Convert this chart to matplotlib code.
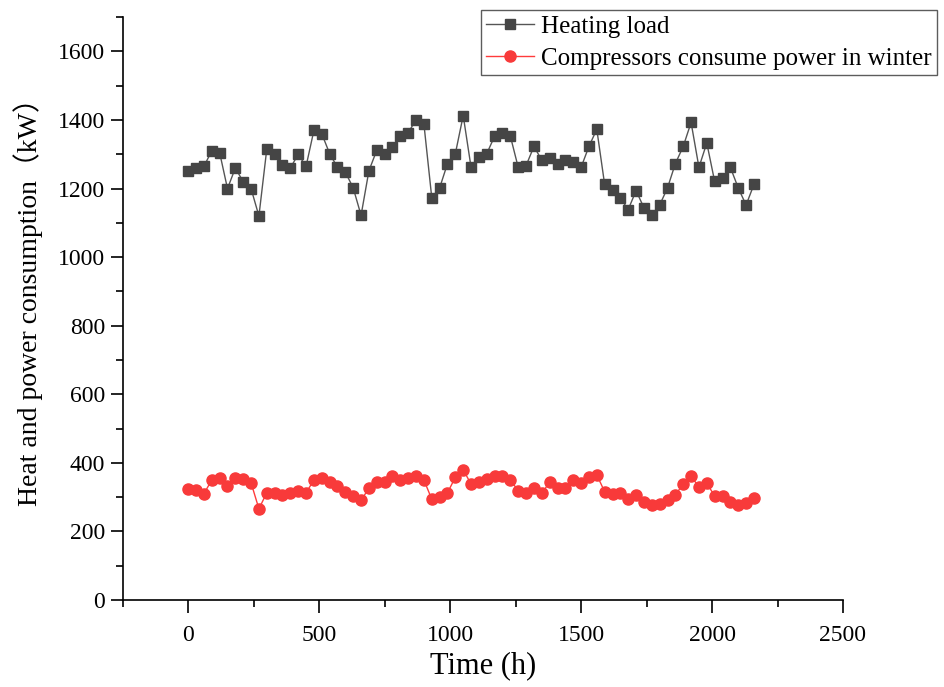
import numpy as np
import matplotlib.pyplot as plt
from matplotlib.ticker import MultipleLocator

# time stamps (h), one sample every 30 h over the winter season
hours = np.arange(0, 2161, 30)

# heating load (kW)
heating_load = [1250, 1260, 1265, 1310, 1305, 1200, 1260, 1220, 1200, 1120,
                1315, 1300, 1270, 1260, 1300, 1265, 1370, 1360, 1302, 1262,
                1248, 1202, 1122, 1252, 1312, 1302, 1321, 1352, 1363, 1401,
                1388, 1173, 1202, 1273, 1302, 1413, 1262, 1292, 1302, 1353,
                1363, 1353, 1262, 1267, 1323, 1283, 1288, 1273, 1283, 1278,
                1262, 1323, 1373, 1212, 1197, 1172, 1139, 1194, 1144, 1122,
                1152, 1202, 1273, 1323, 1393, 1262, 1333, 1221, 1231, 1262,
                1202, 1152, 1212]

# compressor power consumption in winter (kW)
compressor_power = [325, 320, 310, 350, 357, 332, 355, 353, 342, 266,
                    313, 313, 307, 311, 318, 313, 350, 355, 345, 334,
                    314, 302, 291, 326, 344, 345, 361, 351, 357, 362,
                    350, 294, 300, 313, 358, 380, 338, 344, 354, 362,
                    362, 350, 319, 313, 328, 311, 344, 326, 326, 351,
                    340, 360, 365, 316, 309, 311, 294, 307, 287, 277,
                    280, 292, 307, 338, 362, 329, 340, 304, 302, 287,
                    277, 282, 299]

serif = ['Liberation Serif', 'Noto Sans CJK SC']
plt.rcParams['font.family'] = serif

fig = plt.figure(figsize=(9.44, 6.87), dpi=100)
ax = fig.add_axes([0.130, 0.1266, 0.763, 0.8484])

ax.plot(hours, heating_load, color='#555555', lw=1.0, marker='s', ms=7,
        mfc='#454545', mec='#454545', label='Heating load')
ax.plot(hours, compressor_power, color='#ff3b3b', lw=1.0, marker='o', ms=8,
        mfc='#f83a3a', mec='#f83a3a', label='Compressors consume power in winter')

ax.set_xlim(-250, 2500)
ax.set_ylim(0, 1700)
ax.xaxis.set_major_locator(MultipleLocator(500))
ax.xaxis.set_minor_locator(MultipleLocator(250))
ax.yaxis.set_minor_locator(MultipleLocator(100))
ax.set_yticks(np.arange(0, 1601, 200))

for s in ['top', 'right']:
    ax.spines[s].set_visible(False)
for s in ['left', 'bottom']:
    ax.spines[s].set_linewidth(1.2)
ax.tick_params(which='major', direction='out', length=9, width=1.2, labelsize=17)
ax.tick_params(which='minor', direction='out', length=5, width=1.2)
ax.tick_params(axis='x', pad=9)

ax.set_xlabel('Time (h)', fontsize=22, labelpad=4)
ax.set_ylabel('Heat and power consumption（kW）', fontsize=20)
ax.yaxis.set_label_coords(-0.111, 0.523)

leg = ax.legend(loc='upper right', bbox_to_anchor=(1.0 + 94 / 720, 1.0 + 7 / 583),
                fontsize=18, frameon=True, fancybox=False, handlelength=1.9,
                borderpad=0.2, labelspacing=0.4, handletextpad=0.3,
                borderaxespad=0.0)
leg.get_frame().set_edgecolor('#333333')
leg.get_frame().set_linewidth(1.0)

plt.savefig('out.png', dpi=100)
